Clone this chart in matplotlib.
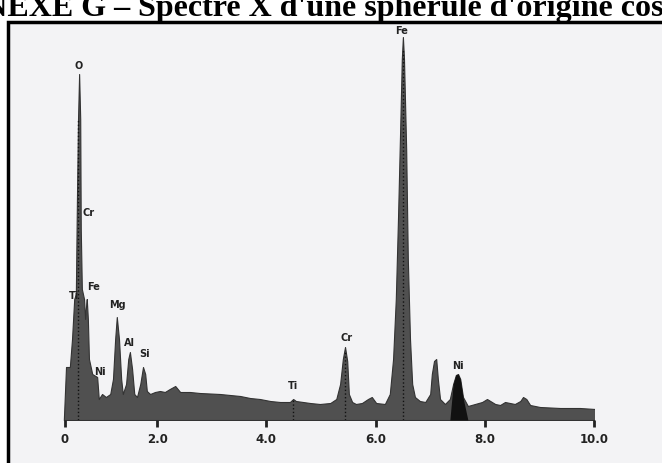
import numpy as np
import matplotlib.pyplot as plt
from matplotlib.patches import Rectangle

# spectrum outline (energy in keV, counts in arbitrary units)
energy = [0.29, 0.33, 0.40, 0.44, 0.48, 0.51, 0.53, 0.55, 0.57, 0.59, 0.60, 0.62,
          0.66, 0.68, 0.70, 0.71, 0.73, 0.75, 0.77, 0.81, 0.90, 0.93, 0.99, 1.06,
          1.14, 1.19, 1.23, 1.26, 1.30, 1.34, 1.37, 1.43, 1.47, 1.50, 1.54, 1.58,
          1.63, 1.69, 1.74, 1.78, 1.81, 1.87, 1.96, 2.05, 2.14, 2.23, 2.33, 2.42,
          2.60, 2.78, 3.15, 3.52, 3.70, 3.88, 4.07, 4.25, 4.43, 4.49, 4.54, 4.80,
          4.98, 5.17, 5.28, 5.35, 5.40, 5.44, 5.48, 5.51, 5.57, 5.64, 5.75, 5.86,
          5.93, 6.01, 6.17, 6.26, 6.32, 6.37, 6.41, 6.45, 6.48, 6.50, 6.52, 6.56,
          6.59, 6.63, 6.67, 6.72, 6.81, 6.91, 7.00, 7.03, 7.07, 7.11, 7.14, 7.18,
          7.27, 7.36, 7.42, 7.47, 7.51, 7.55, 7.60, 7.69, 7.82, 7.95, 8.04, 8.10,
          8.19, 8.28, 8.37, 8.55, 8.65, 8.70, 8.76, 8.83, 9.01, 9.38, 9.74, 10.02,
          10.04]
counts = [0, 53, 53, 81, 121, 126, 221, 301, 346, 301, 191, 131,
          121, 101, 116, 121, 101, 61, 56, 46, 43, 21, 26, 23,
          26, 41, 81, 103, 81, 41, 26, 36, 61, 68, 51, 26,
          23, 36, 53, 46, 29, 26, 28, 29, 28, 31, 34, 28,
          28, 27, 26, 24, 22, 21, 19, 18, 18, 21, 19, 17,
          16, 17, 21, 36, 61, 73, 59, 26, 18, 16, 17, 21,
          23, 17, 16, 26, 61, 121, 201, 291, 361, 383, 361, 271,
          161, 81, 36, 23, 19, 18, 26, 46, 59, 61, 41, 21,
          16, 21, 36, 45, 46, 41, 23, 14, 16, 18, 21, 19,
          16, 15, 18, 16, 19, 23, 21, 15, 13, 12, 12, 11,
          0]

# dark filled Ni K peak
ni_lo, ni_hi = 7.38, 7.62

# element labels (text, keV, counts)
labels = ["O", "Cr", "Ti", "Fe", "Mg", "Al", "Si", "Ni", "Ti", "Cr", "Fe", "Ni"]
label_x = [0.57, 0.75, 0.48, 0.83, 1.27, 1.50, 1.77, 0.96, 4.49, 5.46, 6.47, 7.51]
label_y = [355, 208, 125, 134, 116, 78, 67, 49, 35, 83, 390, 55]

# peak marker lines (keV, height)
marker_x = [0.55, 4.49, 5.44, 6.50, 7.50]
marker_h = [300, 20, 70, 370, 40]

tick_pos = [0.31, 2, 4, 6, 8, 10]
tick_txt = ["0", "2.0", "4.0", "6.0", "8.0", "10.0"]

fig = plt.figure(figsize=(6.62, 4.64), dpi=100)
fig.patch.set_facecolor("white")

# scanned frame
frame = Rectangle((8 / 662, -0.1), 1.2, 1.1 - 23 / 464,
                  transform=fig.transFigure, facecolor="#f3f3f5",
                  edgecolor="black", linewidth=2.5, zorder=-5)
fig.patches.append(frame)

ax = fig.add_axes([48 / 662, 43 / 464, 546 / 662, 400 / 464])
ax.set_zorder(2)
ax.set_facecolor("none")
ax.set_xlim(0, 10)
ax.set_ylim(0, 400)

e = np.array(energy)
c = np.array(counts)
ax.fill_between(e, 0, c, color="#505050", linewidth=0.8, edgecolor="#333333")
mask = (e >= ni_lo) & (e <= ni_hi)
ax.fill_between(e, 0, c, where=mask, color="#111111", linewidth=0, interpolate=True)
ax.vlines(marker_x, 0, marker_h, colors="#111111", linewidth=1.0, linestyles=":")

for t, x, y in zip(labels, label_x, label_y):
    ax.text(x, y, t, ha="center", va="center", fontsize=7, fontweight="bold",
            color="#222222")

for s in ax.spines.values():
    s.set_visible(False)
ax.set_yticks([])
ax.set_xticks(tick_pos)
ax.set_xticklabels(tick_txt, fontsize=8.5, fontweight="bold", color="#222222")
ax.tick_params(axis="x", direction="out", length=5, width=2, color="#222222", pad=4)

fig.text(130 / 662, 1 - 16 / 464, "ANNEXE G \u2013", ha="right", va="baseline",
         fontsize=23, fontweight="bold", family="Liberation Serif")
fig.text(138 / 662, 1 - 16 / 464, "Spectre X d'une sph\u00e9rule d'origine cosmique",
         ha="left", va="baseline", fontsize=23, fontweight="bold",
         family="Liberation Serif")

fig.savefig("out.png", dpi=100)
